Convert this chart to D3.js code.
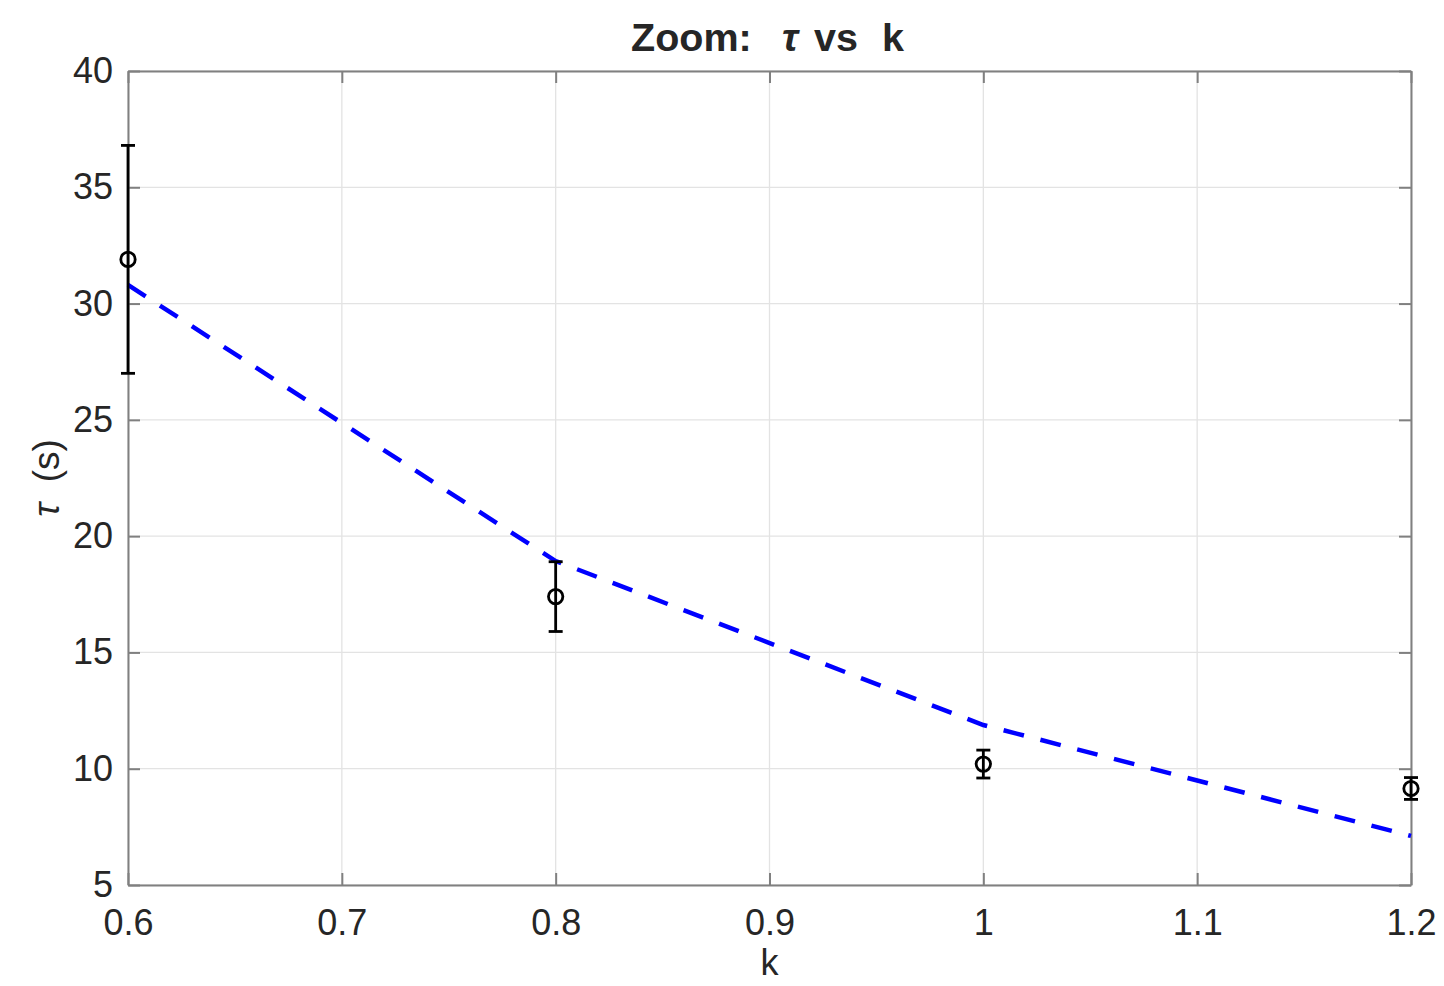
<!DOCTYPE html>
<html>
<head>
<meta charset="utf-8">
<script src="https://cdn.jsdelivr.net/npm/d3@7"></script>
<style>
  html, body { margin: 0; padding: 0; background: #fff; }
  svg { display: block; font-family: "Liberation Sans", Arial, Helvetica, sans-serif; }
</style>
</head>
<body>
<svg id="chart" width="1444" height="986"></svg>
<script>
// Measured relaxation time with error bars
const kValues   = [0.6, 0.8, 1.0, 1.2];
const tauValues = [31.9, 17.4, 10.2, 9.15];
const tauErr    = [4.9, 1.5, 0.6, 0.47];

// Model curve
const modelK   = [0.6, 0.8, 1.0, 1.2];
const modelTau = [30.8, 18.93, 11.88, 7.11];

const xTicks = [0.6, 0.7, 0.8, 0.9, 1.0, 1.1, 1.2];
const xTickLabels = ["0.6", "0.7", "0.8", "0.9", "1", "1.1", "1.2"];
const yTicks = [5, 10, 15, 20, 25, 30, 35, 40];

const svg = d3.select("#chart");
const margin = { left: 128, right: 1411, top: 71, bottom: 885 };

const x = d3.scaleLinear().domain([0.6, 1.2]).range([margin.left, margin.right]);
const y = d3.scaleLinear().domain([5, 40]).range([margin.bottom, margin.top]);

const gridColor = "#e3e3e3";
const axisColor = "#808080";
const textColor = "#262626";
const tickLen = 12;

// Grid
const grid = svg.append("g");
grid.selectAll("line.gx").data(xTicks).join("line")
  .attr("x1", d => x(d)).attr("x2", d => x(d))
  .attr("y1", margin.top).attr("y2", margin.bottom)
  .attr("stroke", gridColor).attr("stroke-width", 1.3);
grid.selectAll("line.gy").data(yTicks).join("line")
  .attr("x1", margin.left).attr("x2", margin.right)
  .attr("y1", d => y(d)).attr("y2", d => y(d))
  .attr("stroke", gridColor).attr("stroke-width", 1.3);

// Axes with inward ticks on all four sides
const bottomAxis = d3.axisBottom(x).tickValues(xTicks)
  .tickFormat((d, i) => xTickLabels[i]).tickSizeInner(-tickLen).tickSizeOuter(0).tickPadding(24);
const topAxis = d3.axisTop(x).tickValues(xTicks).tickFormat("")
  .tickSizeInner(-tickLen).tickSizeOuter(0);
const leftAxis = d3.axisLeft(y).tickValues(yTicks).tickFormat(d3.format("d"))
  .tickSizeInner(-tickLen).tickSizeOuter(0).tickPadding(15);
const rightAxis = d3.axisRight(y).tickValues(yTicks).tickFormat("")
  .tickSizeInner(-tickLen).tickSizeOuter(0);

function styleAxis(g) {
  g.select(".domain").attr("stroke", axisColor).attr("stroke-width", 2);
  g.selectAll(".tick line").attr("stroke", axisColor).attr("stroke-width", 2);
  g.selectAll(".tick text").attr("fill", textColor).attr("font-size", 36)
    .attr("font-family", "Liberation Sans, Arial, sans-serif");
}

svg.append("g").attr("transform", `translate(0,${margin.bottom})`).call(bottomAxis).call(styleAxis)
  .selectAll(".tick text").attr("dy", "0.71em");
svg.append("g").attr("transform", `translate(0,${margin.top})`).call(topAxis).call(styleAxis);
svg.append("g").attr("transform", `translate(${margin.left},0)`).call(leftAxis).call(styleAxis);
svg.append("g").attr("transform", `translate(${margin.right},0)`).call(rightAxis).call(styleAxis);

// Model curve (dashed blue)
const line = d3.line().x(d => x(d[0])).y(d => y(d[1]));
svg.append("path")
  .datum(modelK.map((k, i) => [k, modelTau[i]]))
  .attr("d", line)
  .attr("fill", "none")
  .attr("stroke", "#0000ff")
  .attr("stroke-width", 4.5)
  .attr("stroke-dasharray", "21,17");

// Error bars
const pts = kValues.map((k, i) => ({ k, t: tauValues[i], e: tauErr[i] }));
const eb = svg.append("g").attr("stroke", "#000").attr("stroke-width", 2.8).attr("fill", "none");
const capHalf = 7;
eb.selectAll("line.v").data(pts).join("line")
  .attr("x1", d => x(d.k)).attr("x2", d => x(d.k))
  .attr("y1", d => y(d.t - d.e)).attr("y2", d => y(d.t + d.e));
eb.selectAll("line.top").data(pts).join("line")
  .attr("x1", d => x(d.k) - capHalf).attr("x2", d => x(d.k) + capHalf)
  .attr("y1", d => y(d.t + d.e)).attr("y2", d => y(d.t + d.e));
eb.selectAll("line.bot").data(pts).join("line")
  .attr("x1", d => x(d.k) - capHalf).attr("x2", d => x(d.k) + capHalf)
  .attr("y1", d => y(d.t - d.e)).attr("y2", d => y(d.t - d.e));
eb.selectAll("circle").data(pts).join("circle")
  .attr("cx", d => x(d.k)).attr("cy", d => y(d.t)).attr("r", 7.2)
  .attr("stroke-width", 2.8);

// Title: "Zoom:  τ  vs  k" with wide word spacing
const title = svg.append("text")
  .attr("y", 51)
  .attr("font-size", 39.5).attr("font-weight", "bold")
  .attr("fill", textColor);
title.append("tspan").attr("x", 631).text("Zoom:");
title.append("tspan").attr("x", 782).attr("font-style", "italic").text("τ");
title.append("tspan").attr("x", 814).text("vs");
title.append("tspan").attr("x", 882).text("k");

// Axis labels
svg.append("text")
  .attr("x", (margin.left + margin.right) / 2).attr("y", 975)
  .attr("text-anchor", "middle").attr("font-size", 36).attr("fill", textColor)
  .text("k");

const yl = svg.append("text")
  .attr("transform", `translate(59,${(margin.top + margin.bottom) / 2}) rotate(-90)`)
  .attr("text-anchor", "middle").attr("font-size", 37).attr("fill", textColor)
  .style("white-space", "pre");
yl.append("tspan").attr("font-style", "italic").text("τ");
yl.append("tspan").text("  (s)");
</script>
</body>
</html>
